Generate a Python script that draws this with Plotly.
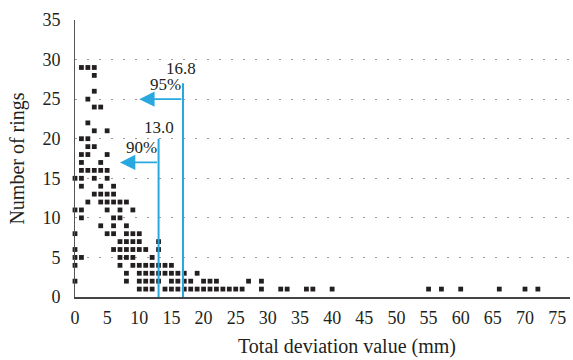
import plotly.graph_objects as go

# x positions (total deviation value, mm) for each ring count
x_rings_29 = [1, 2, 3]
x_rings_28 = [3]
x_rings_26 = [3]
x_rings_25 = [2]
x_rings_24 = [3, 4]
x_rings_22 = [2]
x_rings_21 = [3, 5]
x_rings_20 = [1, 2]
x_rings_19 = [2, 3]
x_rings_18 = [1, 2, 5]
x_rings_17 = [1, 4]
x_rings_16 = [1, 2, 3, 4, 5]
x_rings_15 = [0, 1, 3, 5]
x_rings_14 = [1, 4, 6]
x_rings_13 = [3, 4, 5, 6]
x_rings_12 = [2, 4, 5, 6, 7, 8]
x_rings_11 = [0, 1, 5, 7, 9]
x_rings_10 = [1, 6, 7]
x_rings_9 = [4, 6, 8]
x_rings_8 = [0, 5, 6, 8, 9, 10]
x_rings_7 = [7, 8, 9, 10, 13]
x_rings_6 = [0, 6, 7, 8, 9, 10, 11, 13]
x_rings_5 = [0, 1, 7, 8, 9, 12]
x_rings_4 = [0, 7, 9, 10, 11, 12, 13, 14, 15]
x_rings_3 = [8, 10, 11, 12, 13, 14, 15, 16, 17, 19]
x_rings_2 = [0, 8, 10, 11, 12, 13, 15, 16, 17, 18, 20, 21, 22, 27, 29]
x_rings_1 = [10, 11, 12, 14, 15, 16, 17, 18, 19, 20, 21, 22, 23, 24, 25, 26,
             29, 32, 33, 36, 37, 40, 55, 57, 60, 66, 70, 72]

ring_counts = [29, 28, 26, 25, 24, 22, 21, 20, 19, 18, 17, 16, 15, 14, 13,
               12, 11, 10, 9, 8, 7, 6, 5, 4, 3, 2, 1]
row_lists = [x_rings_29, x_rings_28, x_rings_26, x_rings_25, x_rings_24,
             x_rings_22, x_rings_21, x_rings_20, x_rings_19, x_rings_18,
             x_rings_17, x_rings_16, x_rings_15, x_rings_14, x_rings_13,
             x_rings_12, x_rings_11, x_rings_10, x_rings_9, x_rings_8,
             x_rings_7, x_rings_6, x_rings_5, x_rings_4, x_rings_3,
             x_rings_2, x_rings_1]

# percentile thresholds
threshold_values = [13.0, 16.8]
threshold_labels = ["13.0", "16.8"]
percent_labels = ["90%", "95%"]
line_tops = [20, 27]
arrow_y = [17, 25]
arrow_tip_x = [7, 10]

x_tick_vals = list(range(0, 80, 5))
y_tick_vals = list(range(0, 40, 5))

x_title = "Total deviation value (mm)"
y_title = "Number of rings"

xs, ys = [], []
for rc, row in zip(ring_counts, row_lists):
    for xv in row:
        xs.append(xv)
        ys.append(rc)

CYAN = "#29a8e0"
DARK = "#231f20"
FONT = "Liberation Serif"
label_xshift = [0, -2]
label_yshift = [0, 3]

fig = go.Figure()

fig.add_trace(go.Scatter(
    x=xs, y=ys, mode="markers",
    marker=dict(symbol="square", size=4.8, color=DARK, line=dict(width=0)),
    cliponaxis=False, showlegend=False, hoverinfo="skip"))

for tv, top in zip(threshold_values, line_tops):
    fig.add_trace(go.Scatter(
        x=[tv, tv], y=[0, top], mode="lines",
        line=dict(color=CYAN, width=2), showlegend=False, hoverinfo="skip"))

annotations = []
for tv, ay, tip, tl, pl, top, xs_, ys_ in zip(threshold_values, arrow_y,
                                              arrow_tip_x, threshold_labels,
                                              percent_labels, line_tops,
                                              label_xshift, label_yshift):
    annotations.append(dict(
        x=tip, y=ay, ax=tv, ay=ay, xref="x", yref="y", axref="x", ayref="y",
        text="", showarrow=True, arrowhead=2, arrowsize=1.7, arrowwidth=1.8,
        arrowcolor=CYAN, standoff=0))
    annotations.append(dict(
        x=tv, y=top, xref="x", yref="y", text=tl, showarrow=False,
        xanchor="center", yanchor="bottom", yshift=ys_, xshift=xs_,
        font=dict(family=FONT, size=17, color=DARK)))
    annotations.append(dict(
        x=tv, y=ay, xref="x", yref="y", text=pl, showarrow=False,
        xanchor="right", yanchor="bottom", xshift=0, yshift=3,
        font=dict(family=FONT, size=17, color=DARK)))

annotations.append(dict(
    x=0.55, y=-0.18, xref="paper", yref="paper", text=x_title,
    showarrow=False, xanchor="center", yanchor="middle",
    font=dict(family=FONT, size=20, color=DARK)))

fig.update_layout(
    width=573, height=360,
    margin=dict(l=75, r=3, t=20, b=63),
    paper_bgcolor="white", plot_bgcolor="white",
    font=dict(family=FONT, size=18, color=DARK),
    annotations=annotations,
    xaxis=dict(
        range=[0, 77], tickmode="array", tickvals=x_tick_vals,
        showgrid=False, zeroline=False, showline=True,
        linecolor="#444444", linewidth=2, ticks="", ticklabelstandoff=3,
        tickfont=dict(family=FONT, size=18, color=DARK)),
    yaxis=dict(
        range=[0, 35], tickmode="array", tickvals=y_tick_vals,
        showgrid=True, gridcolor="#9a9a9a", gridwidth=1, griddash="2px,10px",
        zeroline=False, showline=True, linecolor="#555555", linewidth=1,
        ticks="", ticklabelstandoff=10,
        tickfont=dict(family=FONT, size=18, color=DARK),
        title=dict(text=y_title,
                   font=dict(family=FONT, size=20, color=DARK), standoff=12)),
)

fig.write_html("out.html")
